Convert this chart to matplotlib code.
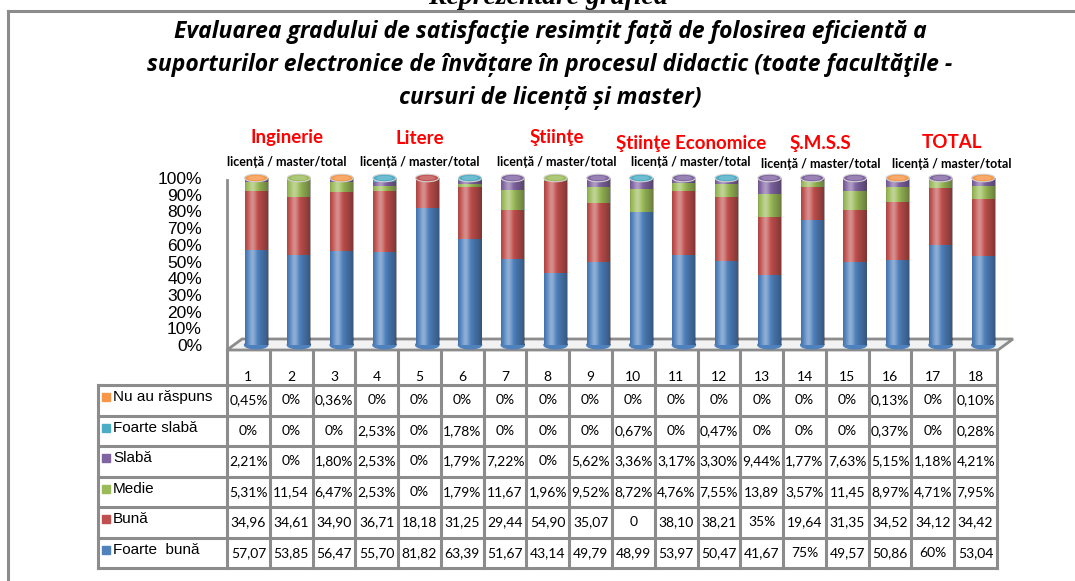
import numpy as np
import matplotlib.pyplot as plt
from matplotlib.patches import Ellipse, Rectangle, Polygon

plt.rcParams['font.family'] = ['Lato', 'DejaVu Sans']

# table text, as printed under the chart (columns 1..18)
nu_au_raspuns = ["0,45%", "0%", "0,36%", "0%", "0%", "0%", "0%", "0%", "0%",
                 "0%", "0%", "0%", "0%", "0%", "0%", "0,13%", "0%", "0,10%"]
foarte_slaba = ["0%", "0%", "0%", "2,53%", "0%", "1,78%", "0%", "0%", "0%",
                "0,67%", "0%", "0,47%", "0%", "0%", "0%", "0,37%", "0%", "0,28%"]
slaba = ["2,21%", "0%", "1,80%", "2,53%", "0%", "1,79%", "7,22%", "0%", "5,62%",
         "3,36%", "3,17%", "3,30%", "9,44%", "1,77%", "7,63%", "5,15%", "1,18%", "4,21%"]
medie = ["5,31%", "11,54", "6,47%", "2,53%", "0%", "1,79%", "11,67", "1,96%", "9,52%",
         "8,72%", "4,76%", "7,55%", "13,89", "3,57%", "11,45", "8,97%", "4,71%", "7,95%"]
buna = ["34,96", "34,61", "34,90", "36,71", "18,18", "31,25", "29,44", "54,90", "35,07",
        "0", "38,10", "38,21", "35%", "19,64", "31,35", "34,52", "34,12", "34,42"]
foarte_buna = ["57,07", "53,85", "56,47", "55,70", "81,82", "63,39", "51,67", "43,14", "49,79",
               "48,99", "53,97", "50,47", "41,67", "75%", "49,57", "50,86", "60%", "53,04"]

columns = ["1", "2", "3", "4", "5", "6", "7", "8", "9",
           "10", "11", "12", "13", "14", "15", "16", "17", "18"]

# stacked bottom -> top
series_names = ["Foarte  bună", "Bună", "Medie", "Slabă", "Foarte slabă", "Nu au răspuns"]
series_text = [foarte_buna, buna, medie, slaba, foarte_slaba, nu_au_raspuns]
series_colors = ["#4F81BD", "#C0504D", "#9BBB59", "#8064A2", "#4BACC6", "#F79646"]

groups = ["Inginerie", "Litere", "Ştiinţe", "Ştiinţe Economice", "Ş.M.S.S", "TOTAL"]
group_sub = ["licență / master/total"] * 6

title_lines = ["Evaluarea gradului de satisfacţie resimțit față de folosirea eficientă a",
               "suporturilor electronice de învățare în procesul didactic (toate facultăţile -",
               "cursuri de licență și master)"]


def num(s):
    return float(s.replace('%', '').replace(',', '.'))


vals = np.array([[num(s) for s in row] for row in series_text])
frac = vals / vals.sum(axis=0)

W, H = 1075, 581
fig = plt.figure(figsize=(W / 100, H / 100), dpi=100)

# overlay in pixel coordinates for frame / floor / table grid
ov = fig.add_axes([0, 0, 1, 1], zorder=0)
ov.set_xlim(0, W)
ov.set_ylim(H, 0)
ov.axis('off')

gray = '#8C8C8C'
ov.plot([8, W], [11, 11], color=gray, lw=2.2)
ov.plot([8, 8], [11, H], color=gray, lw=2.2)

fig.text(548 / W, 1 - 4 / H, "Reprezentare grafică", family='Liberation Serif',
         fontsize=20, fontweight='bold', style='italic', ha='center', va='baseline')
for i, line in enumerate(title_lines):
    fig.text(550 / W, 1 - (32 + 33 * i) / H, line, family=['Open Sans', 'DejaVu Sans'],
             fontsize=16.5, fontweight='bold', style='italic', ha='center', va='center')

# chart
x0, x1 = 227, 997
y0, y1 = 345, 178
ncol = len(columns)
cw = (x1 - x0) / ncol

ax = fig.add_axes([x0 / W, 1 - y0 / H, (x1 - x0) / W, (y0 - y1) / H], zorder=2)
ax.patch.set_alpha(0)

# floor and back wall
ov.add_patch(Polygon([(x0, 350), (x1 + 1, 350), (1013, 339), (x0 + 15, 339)],
                     closed=True, fc='#F2F2F2', ec=gray, lw=2))
ov.plot([x0, x0], [180, 350], color=gray, lw=2)

xpos = np.arange(ncol) + 0.18
bw = 0.54
bottom = np.zeros(ncol)
for k in range(len(series_names)):
    ax.bar(xpos, frac[k], bw, bottom=bottom, color=series_colors[k], zorder=2)
    bottom += frac[k]

# cylinder shading
t = np.linspace(0, 1, 60)
v = 0.38 * np.exp(-((t - 0.32) / 0.17) ** 2) - 0.35 * t ** 2.5 - 0.15 * np.exp(-t / 0.06)
shade = np.zeros((1, len(t), 4))
shade[0, :, :3] = np.where(v[:, None] > 0, 1.0, 0.0)
shade[0, :, 3] = np.abs(v)
cap_h = 0.045
for i in range(ncol):
    ax.imshow(shade, extent=(xpos[i] - bw / 2, xpos[i] + bw / 2, 0, 1), aspect='auto',
              interpolation='bilinear', zorder=3)
    top = max(k for k in range(len(series_names)) if frac[k, i] > 0)
    ax.add_patch(Ellipse((xpos[i], 0), bw, cap_h, color=series_colors[0], zorder=1.9,
                         clip_on=False))
    ax.add_patch(Ellipse((xpos[i], 1), bw, cap_h, fc=series_colors[top], ec='#D0D0D0',
                         lw=0.8, zorder=4, clip_on=False))
    ax.add_patch(Ellipse((xpos[i], 1), bw * 0.7, cap_h * 0.6, fc='white', alpha=0.2,
                         zorder=4.1, clip_on=False))

ax.set_xlim(-0.5, ncol - 0.5)
ax.set_ylim(0, 1)
ax.set_xticks([])
ax.set_yticks(np.arange(0, 1.01, 0.1))
ax.set_yticklabels([f"{p}%" for p in range(0, 101, 10)], family='Liberation Sans', fontsize=12.5)
ax.tick_params(axis='y', length=0, pad=18)
for s in ax.spines.values():
    s.set_visible(False)

# group labels
gx = [0.90, 4.01, 7.21, 10.34, 13.38, 16.44]
gy_title = [138, 138, 138, 143, 143, 143]
gy_sub = [162, 162, 162, 162, 164, 164]
for g in range(len(groups)):
    px = x0 + (gx[g] + 0.5) * cw
    ov.text(px, gy_title[g], groups[g], color='#FF0000', fontsize=13.5, fontweight='bold',
            ha='center', va='center')
    ov.text(px, gy_sub[g], group_sub[g], fontsize=9, fontweight='bold',
            ha='center', va='center')

# data table
row_top = 385
rh = 30.5
nrow = len(series_names)
for r in range(nrow + 1):
    ov.plot([98, x1], [row_top + r * rh] * 2, color=gray, lw=2.2)
ov.plot([98, 98], [row_top, row_top + nrow * rh], color=gray, lw=2.2)
for c in range(ncol + 1):
    ov.plot([x0 + c * cw] * 2, [350, row_top + nrow * rh], color=gray, lw=2.2)

for c in range(ncol):
    ov.text(x0 + (c + 0.5) * cw, 377, columns[c], fontsize=10, ha='center', va='center')

for r in range(nrow):
    k = nrow - 1 - r
    yc = row_top + (r + 0.5) * rh
    ov.add_patch(Rectangle((102, yc - 7), 8, 8, color=series_colors[k]))
    ov.text(113, yc - 3, series_names[k], family='Liberation Sans', fontsize=11,
            ha='left', va='center')
    for c in range(ncol):
        ov.text(x0 + (c + 0.5) * cw, yc, series_text[k][c], fontsize=10,
                ha='center', va='center')

fig.savefig('out.png', dpi=100)
